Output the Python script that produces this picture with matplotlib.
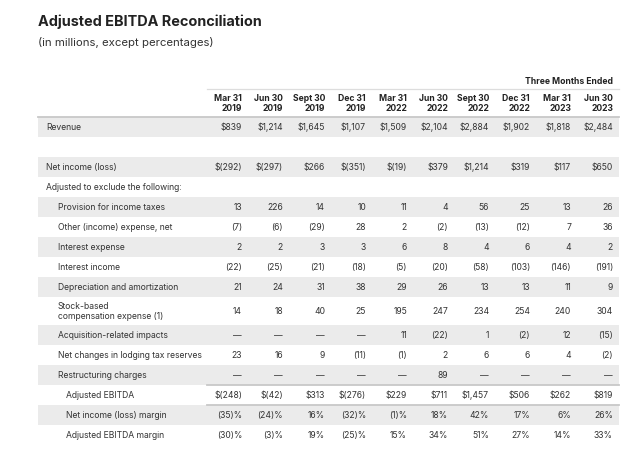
import matplotlib
matplotlib.use("Agg")
import matplotlib.pyplot as plt
from matplotlib.patches import Rectangle

plt.rcParams['font.family'] = ['Inter', 'DejaVu Sans']

periods = ["Mar 31\n2019", "Jun 30\n2019", "Sept 30\n2019", "Dec 31\n2019", "Mar 31\n2022",
           "Jun 30\n2022", "Sept 30\n2022", "Dec 31\n2022", "Mar 31\n2023", "Jun 30\n2023"]

revenue = [839, 1214, 1645, 1107, 1509, 2104, 2884, 1902, 1818, 2484]
net_income = [-292, -297, 266, -351, -19, 379, 1214, 319, 117, 650]
prov_taxes = [13, 226, 14, 10, 11, 4, 56, 25, 13, 26]
other_exp = [-7, -6, -29, 28, 2, -2, -13, -12, 7, 36]
int_expense = [2, 2, 3, 3, 6, 8, 4, 6, 4, 2]
int_income = [-22, -25, -21, -18, -5, -20, -58, -103, -146, -191]
dep_amort = [21, 24, 31, 38, 29, 26, 13, 13, 11, 9]
stock_comp = [14, 18, 40, 25, 195, 247, 234, 254, 240, 304]
acquisition = [None, None, None, None, 11, -22, 1, -2, 12, -15]
lodging_tax = [23, 16, 9, -11, -1, 2, 6, 6, 4, -2]
restructuring = [None, None, None, None, None, 89, None, None, None, None]
adj_ebitda = [-248, -42, 313, -276, 229, 711, 1457, 506, 262, 819]
ni_margin = [-35, -24, 16, -32, -1, 18, 42, 17, 6, 26]
ebitda_margin = [-30, -3, 19, -25, 15, 34, 51, 27, 14, 33]


def fmt(v, kind):
    if v is None:
        return "\u2014"
    s = f"{abs(v):,}"
    if v < 0:
        s = f"({s})"
    if kind == "usd":
        return "$" + s
    if kind == "pct":
        return s + "%"
    return s


# (label, values, kind, indent, shaded, height)
rows = [
    ("Revenue", revenue, "usd", 46, True, 20),
    ("", None, None, 46, False, 20),
    ("Net income (loss)", net_income, "usd", 46, True, 20),
    ("Adjusted to exclude the following:", None, None, 46, False, 20),
    ("Provision for income taxes", prov_taxes, "num", 58, True, 20),
    ("Other (income) expense, net", other_exp, "num", 58, False, 20),
    ("Interest expense", int_expense, "num", 58, True, 20),
    ("Interest income", int_income, "num", 58, False, 20),
    ("Depreciation and amortization", dep_amort, "num", 58, True, 20),
    ("Stock-based\ncompensation expense (1)", stock_comp, "num", 58, False, 28),
    ("Acquisition-related impacts", acquisition, "num", 58, True, 20),
    ("Net changes in lodging tax reserves", lodging_tax, "num", 58, False, 20),
    ("Restructuring charges", restructuring, "num", 58, True, 20),
    ("Adjusted EBITDA", adj_ebitda, "usd", 66, False, 20),
    ("Net income (loss) margin", ni_margin, "pct", 66, True, 20),
    ("Adjusted EBITDA margin", ebitda_margin, "pct", 66, False, 20),
]

fig = plt.figure(figsize=(6.4, 4.72), dpi=100)
ax = fig.add_axes([0, 0, 1, 1])
ax.set_xlim(0, 640)
ax.set_ylim(472, 0)
ax.axis("off")

text_c = "#333333"
shade_c = "#ebebeb"
left, right = 38, 619
col_right = [242, 283, 325, 366, 407, 448, 489, 530, 571, 613]
fs = 6.2

ax.text(38, 22, "Adjusted EBITDA Reconciliation", fontsize=10.4, fontweight="bold",
        color="#222222", va="center", ha="left")
ax.text(38, 43, "(in millions, except percentages)", fontsize=8.2, color="#333333",
        va="center", ha="left")

ax.text(613, 81, "Three Months Ended", fontsize=fs, fontweight="bold", color="#222222",
        va="center", ha="right")
ax.plot([207, right], [89, 89], color="#dddddd", lw=0.9)
for x, p in zip(col_right, periods):
    ax.text(x, 103.5, p, fontsize=fs, fontweight="bold", color="#222222", va="center",
            ha="right", linespacing=1.1)
ax.plot([left, right], [117, 117], color="#c8c8c8", lw=1.3)

y = 117
for label, vals, kind, indent, shaded, h in rows:
    if shaded:
        ax.add_patch(Rectangle((left, y), right - left, h, facecolor=shade_c,
                               edgecolor="none", zorder=0))
    yc = y + h / 2
    if label:
        ax.text(indent, yc + 0.5, label, fontsize=fs, color=text_c, va="center",
                ha="left", linespacing=1.15)
    if vals is not None:
        for x, v in zip(col_right, vals):
            ax.text(x, yc + 0.5, fmt(v, kind), fontsize=fs, color=text_c,
                    va="center", ha="right")
    if label == "Adjusted EBITDA":
        ax.plot([207, right], [y, y], color="#c8c8c8", lw=1.3, zorder=2)
        ax.plot([207, right], [y + h, y + h], color="#c8c8c8", lw=1.3, zorder=2)
    y += h

fig.savefig("out.png", dpi=100, facecolor="white")
